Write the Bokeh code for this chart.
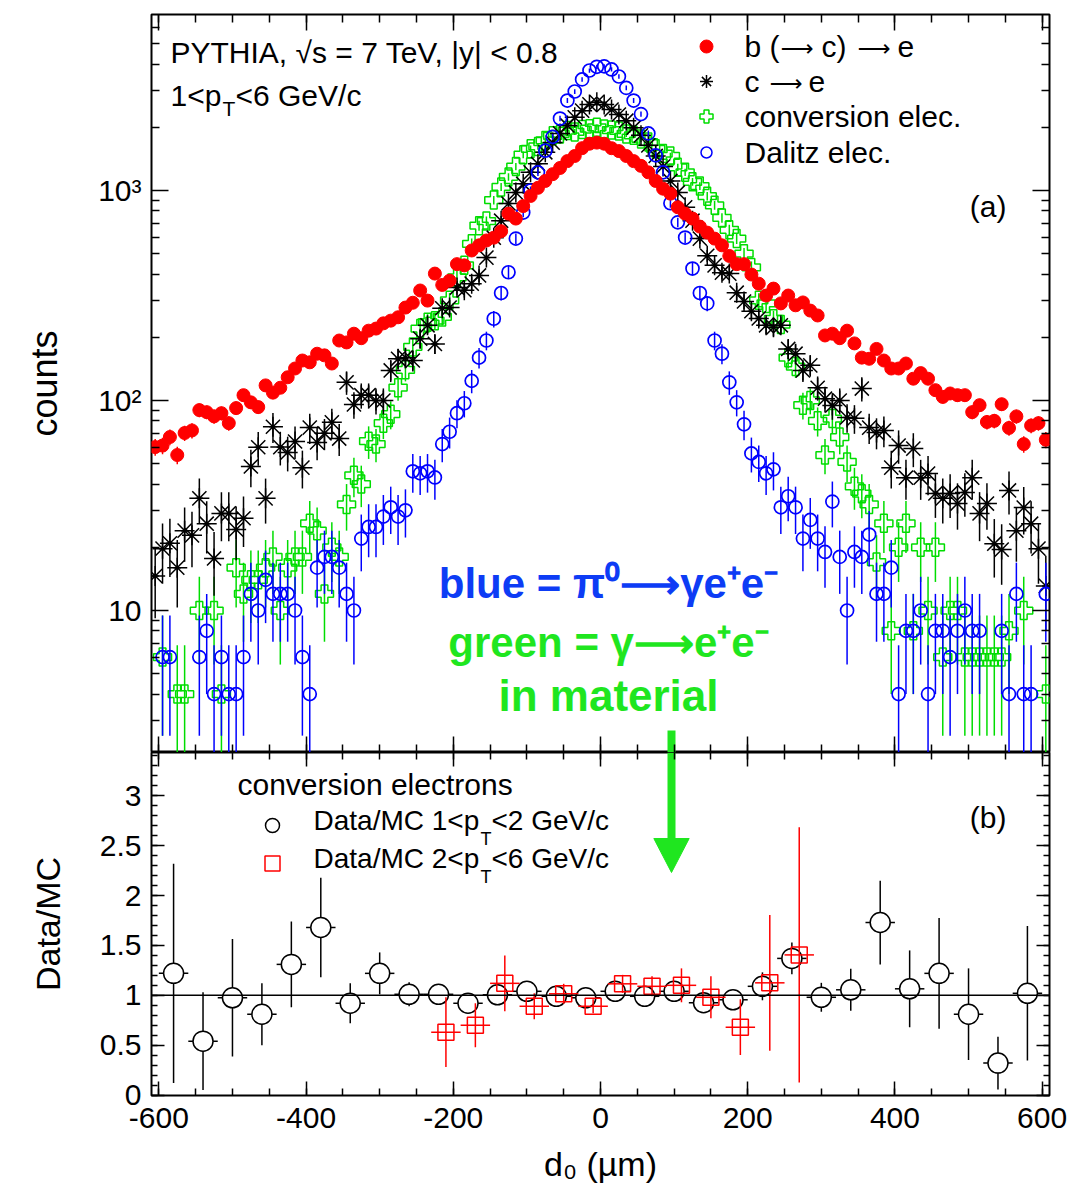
import math

from bokeh.core.properties import value
from bokeh.embed import file_html
from bokeh.layouts import column
from bokeh.models import FixedTicker, Label, LinearAxis, LogAxis, PrintfTickFormatter, Range1d
from bokeh.plotting import figure
from bokeh.resources import INLINE

# ---------------------------------------------------------------- data
# impact-parameter bin centres in µm (10 µm bins)
d0_centers = list(range(-605, 606, 10))

# PYTHIA electron yields per d0 bin
beauty_counts = [
    60, 61, 67, 55, 70, 72, 90, 88, 84, 87,
    78, 92, 106, 98, 93, 118, 109, 115, 129, 142,
    155, 152, 167, 164, 150, 193, 189, 208, 198, 215,
    220, 233, 240, 249, 277, 292, 334, 299, 402, 355,
    372, 446, 440, 518, 548, 578, 596, 640, 776, 735,
    843, 942, 1030, 1110, 1196, 1280, 1380, 1460, 1590, 1670,
    1690, 1670, 1590, 1540, 1460, 1380, 1310, 1220, 1110, 1020,
    966, 832, 776, 735, 673, 630, 590, 548, 488, 446,
    446, 398, 360, 316, 341, 290, 316, 284, 293, 268,
    254, 204, 208, 198, 215, 187, 160, 158, 176, 155,
    142, 142, 150, 127, 135, 127, 112, 104, 108, 106,
    106, 88, 95, 79, 80, 96, 74, 84, 62, 76,
    78, 65,
]
charm_counts = [
    14.6, 19.7, 20.9, 16, 24, 22.8, 34.2, 25.9, 17.7, 29,
    29, 24.3, 27.5, 48.5, 59.9, 34.2, 75, 60, 56.6, 63.8,
    47.9, 74.3, 63.1, 69.8, 78.7, 65.9, 122, 95.7, 106, 106,
    100, 100, 139, 158, 160, 155, 197, 228, 186, 275,
    277, 345, 335, 360, 394, 479, 596, 718, 867, 979,
    1076, 1220, 1340, 1520, 1690, 1870, 2040, 2230, 2400, 2570,
    2630, 2570, 2430, 2300, 2150, 1990, 1830, 1640, 1460, 1300,
    1110, 979, 832, 718, 590, 489, 440, 406, 402, 326,
    296, 266, 246, 228, 223, 228, 176, 167, 139, 147,
    115, 102, 94.7, 100, 83, 82.2, 114, 74.3, 70.4, 71.9,
    47.9, 61, 42.9, 59, 42.9, 44.9, 36.1, 34.2, 36.1, 32.3,
    36.5, 42.9, 29, 32.3, 20.8, 19.5, 37.3, 24, 30.9, 25.9,
    19.7, 13.1,
]
conversion_counts = [
    0, 6, 0, 4, 4, 0, 10, 0, 10, 4,
    0, 16, 12, 14, 14, 16, 18, 10, 16, 18,
    18, 26, 24, 12, 20, 18, 32, 44, 40, 64,
    62, 78, 86, 115, 140, 180, 220, 236, 240, 250,
    300, 386, 440, 557, 680, 715, 900, 1040, 1160, 1300,
    1480, 1580, 1620, 1730, 1820, 1860, 1930, 1900, 1950, 1970,
    2000, 1960, 1940, 1920, 1860, 1830, 1760, 1700, 1580, 1500,
    1460, 1290, 1220, 1100, 1050, 940, 850, 740, 650, 590,
    500, 430, 300, 290, 245, 230, 160, 145, 95, 100,
    80, 55, 82, 67, 51, 39, 36, 32, 17, 26,
    8, 20, 26, 8, 20, 10, 20, 6, 10, 10,
    6, 6, 6, 6, 6, 6, 8, 0, 10, 0,
    0, 4,
]
dalitz_counts = [
    0, 6, 6, 0, 0, 0, 6, 8, 4, 6,
    4, 4, 6, 12, 10, 14, 12, 12, 12, 10,
    6, 4, 16, 18, 18, 16, 12, 10, 22, 25,
    25, 28, 31, 28, 30, 46, 45, 46, 43, 62,
    71, 87, 97, 124, 160, 193, 245, 325, 408, 590,
    785, 1000, 1220, 1547, 1800, 2200, 2680, 2960, 3380, 3727,
    3880, 3900, 3770, 3490, 3080, 2680, 2310, 1870, 1470, 1220,
    870, 705, 597, 425, 325, 290, 193, 167, 122, 98,
    77, 56, 51, 45, 47, 31, 35, 31, 22, 27,
    22, 19, 33, 18, 10, 19, 18, 23, 12, 12,
    16, 4, 8, 8, 10, 4, 8, 8, 6, 8,
    10, 8, 8, 0, 0, 8, 4, 12, 4, 4,
    0, 12,
]
# mean MC weight per entry of each sample (sets the Poisson error)
beauty_weight = 0.5
charm_weight = 2.0
conversion_weight = 2.0
dalitz_weight = 2.0

# Data/MC ratio of conversion electrons, 40 µm bins
ratio_low_x = [-580, -540, -500, -460, -420, -380, -340, -300, -260, -220,
               -180, -140, -100, -60, -20, 20, 60, 100, 140, 180,
               220, 260, 300, 340, 380, 420, 460, 500, 540, 580]
ratio_low = [1.22, 0.54, 0.975, 0.81, 1.31, 1.68, 0.92, 1.22, 1.01, 1.01,
             0.92, 1.005, 1.04, 0.99, 0.975, 1.04, 0.99, 1.04, 0.925, 0.955,
             1.09, 1.37, 0.98, 1.055, 1.73, 1.065, 1.22, 0.81, 0.32, 1.02]
ratio_low_err = [1.1, 0.49, 0.59, 0.31, 0.43, 0.5, 0.2, 0.21, 0.12, 0.08,
                 0.08, 0.05, 0.04, 0.04, 0.04, 0.04, 0.04, 0.05, 0.06, 0.07,
                 0.14, 0.16, 0.145, 0.21, 0.42, 0.385, 0.555, 0.46, 0.265, 0.675]

ratio_high_x = [-210, -170, -130, -90, -50, -10, 30, 70, 110, 150, 190, 230, 270]
ratio_high = [0.63, 0.70, 1.12, 0.89, 1.015, 0.89, 1.115, 1.09, 1.10, 0.98, 0.68, 1.125, 1.405]
ratio_high_err = [0.35, 0.22, 0.28, 0.13, 0.1, 0.07, 0.09, 0.1, 0.17, 0.21, 0.28, 0.68, 1.28]

# ---------------------------------------------------------------- layout
FONT = "Liberation Sans"
ARROW_FONT = "DejaVu Sans"
RED, BLACK, GREEN, BLUE = "#ff0000", "#000000", "#00dd00", "#0000ff"
NOTE_BLUE, NOTE_GREEN = "#0d3cf5", "#1fe61f"

X_RANGE = (-610, 610)
TOP_Y = (2.108, 6886)
LOW_Y = (-0.005, 3.435)
FRAME_L, FRAME_R = 151, 1049
TOP_T, TOP_B = 14, 752
LOW_T, LOW_B = 752, 1095


def sx(px):
    return X_RANGE[0] + (px - FRAME_L) / (FRAME_R - FRAME_L) * (X_RANGE[1] - X_RANGE[0])


def sy_top(py):
    a, b = math.log10(TOP_Y[0]), math.log10(TOP_Y[1])
    return 10 ** (b - (py - TOP_T) / (TOP_B - TOP_T) * (b - a))


def sy_low(py):
    return LOW_Y[1] - (py - LOW_T) / (LOW_B - LOW_T) * (LOW_Y[1] - LOW_Y[0])


def style_axis(ax, tick_in, minor_in, labels=True, size="30px"):
    ax.axis_line_color = None
    ax.major_tick_in = tick_in
    ax.major_tick_out = 0
    ax.minor_tick_in = minor_in
    ax.minor_tick_out = 0
    ax.major_tick_line_color = "black"
    ax.minor_tick_line_color = "black"
    ax.major_tick_line_width = 1.5
    ax.minor_tick_line_width = 1.5
    ax.major_label_text_font = FONT
    ax.major_label_text_color = "black"
    if labels:
        ax.major_label_text_font_size = size
        ax.major_label_standoff = 10
    else:
        # mirrored tick rows on the opposite frame edges carry no numbers
        ax.major_label_text_font_size = "1px"
        ax.major_label_text_alpha = 0
        ax.major_label_standoff = 0
    ax.axis_label_text_font = FONT
    ax.axis_label_text_font_style = "normal"
    ax.axis_label_text_color = "black"


x_major = [-600, -400, -200, 0, 200, 400, 600]
x_minor = list(range(-600, 601, 50))

log_major = [10, 100, 1000]
log_minor = [3, 4, 5, 6, 7, 8, 9, 20, 30, 40, 50, 60, 70, 80, 90,
             200, 300, 400, 500, 600, 700, 800, 900, 2000, 3000, 4000, 5000, 6000]
log_labels = {10: "10", 100: "10²", 1000: "10³"}

lin_major = [0, 0.5, 1, 1.5, 2, 2.5, 3]
lin_minor = [k / 10 for k in range(0, 35)]

ARROW = "⟶"


def text(fig, x, y, s, size, color="black", bold=False, align="left", font=FONT):
    fig.text(x=[x], y=[y], text=[s], text_font=value(font), text_font_size=f"{size}px",
             text_color=color, text_align=align, text_baseline="alphabetic",
             text_font_style="bold" if bold else "normal")


# ---------------------------------------------------------------- upper panel
top = figure(width=1067, height=752, x_range=Range1d(*X_RANGE), y_range=Range1d(*TOP_Y),
             y_axis_type="log", output_backend="svg", toolbar_location=None,
             min_border_left=FRAME_L, min_border_right=1067 - FRAME_R,
             min_border_top=TOP_T, min_border_bottom=0)
top.grid.visible = False
top.outline_line_color = "black"
top.outline_line_width = 2
top.background_fill_color = "white"
top.border_fill_color = "white"

xb = top.xaxis[0]
xb.ticker = FixedTicker(ticks=x_major, minor_ticks=x_minor)
style_axis(xb, 16, 8, labels=False)
xa = LinearAxis(ticker=FixedTicker(ticks=x_major, minor_ticks=x_minor))
style_axis(xa, 16, 8, labels=False)
top.add_layout(xa, "above")

yl = top.yaxis[0]
yl.ticker = FixedTicker(ticks=log_major, minor_ticks=log_minor)
yl.major_label_overrides = log_labels
style_axis(yl, 17, 8)
yl.axis_label = "counts"
yl.axis_label_text_font_size = "36px"
yl.axis_label_standoff = 30
yr = LogAxis(ticker=FixedTicker(ticks=log_major, minor_ticks=log_minor))
style_axis(yr, 17, 8, labels=False)
top.add_layout(yr, "right")


def draw_series(counts, weight, xerr, **marker):
    xs, ys, lo, hi = [], [], [], []
    for x, n in zip(d0_centers, counts):
        if n <= 0:
            continue
        e = math.sqrt(weight * n)
        xs.append(x)
        ys.append(n)
        lo.append(max(n - e, 0.5))
        hi.append(n + e)
    color = marker.get("line_color")
    top.segment(x0=xs, y0=lo, x1=xs, y1=hi, line_color=color, line_width=1.5)
    if xerr:
        top.segment(x0=[x - xerr for x in xs], y0=ys, x1=[x + xerr for x in xs], y1=ys,
                    line_color=color, line_width=1.5)
    top.scatter(x=xs, y=ys, **marker)


draw_series(conversion_counts, conversion_weight, 0, marker="plus", size=18,
            line_color=GREEN, fill_alpha=0, line_width=1.5)
draw_series(charm_counts, charm_weight, 5, marker="asterisk", size=20,
            line_color=BLACK, line_width=1.5)
draw_series(dalitz_counts, dalitz_weight, 0, marker="circle", size=13,
            line_color=BLUE, fill_alpha=0, line_width=1.7)
draw_series(beauty_counts, beauty_weight, 0, marker="circle", size=13,
            line_color=RED, fill_color=RED)

# header and legend (y values give the centre line of each text row)
text(top, sx(170), sy_top(52), "PYTHIA, √s = 7 TeV, |y| < 0.8", 30)
text(top, sx(170), sy_top(95), "1<p", 30)
text(top, sx(222), sy_top(108), "T", 21)
text(top, sx(235), sy_top(95), "<6 GeV/c", 30)

top.scatter(x=[sx(706)], y=[sy_top(46)], marker="circle", size=13, line_color=RED, fill_color=RED)
top.scatter(x=[sx(706)], y=[sy_top(81)], marker="asterisk", size=13, line_color=BLACK, line_width=1.5)
top.scatter(x=[sx(706)], y=[sy_top(116)], marker="plus", size=13, line_color=GREEN,
            fill_alpha=0, line_width=1.5)
top.scatter(x=[sx(706)], y=[sy_top(152)], marker="circle", size=11, line_color=BLUE,
            fill_alpha=0, line_width=1.5)

# legend rows: words in the label font, thin long arrows set separately
text(top, sx(744), sy_top(46), "b (", 30)
text(top, sx(780), sy_top(47), ARROW, 23, font=ARROW_FONT)
text(top, sx(821), sy_top(46), "c)", 30)
text(top, sx(857), sy_top(47), ARROW, 23, font=ARROW_FONT)
text(top, sx(897), sy_top(46), "e", 30)
text(top, sx(744), sy_top(81), "c", 30)
text(top, sx(769), sy_top(82), ARROW, 23, font=ARROW_FONT)
text(top, sx(808), sy_top(81), "e", 30)
text(top, sx(744), sy_top(116), "conversion elec.", 30)
text(top, sx(744), sy_top(152), "Dalitz elec.", 30)

text(top, sx(1006), sy_top(206), "(a)", 30, align="right")

text(top, sx(608), sy_top(583), f"blue = π⁰{ARROW}γe⁺e⁻", 42, color=NOTE_BLUE, bold=True,
     align="center")
text(top, sx(608), sy_top(642), f"green = γ{ARROW}e⁺e⁻", 42, color=NOTE_GREEN, bold=True,
     align="center")
text(top, sx(608), sy_top(695), "in material", 44, color=NOTE_GREEN, bold=True, align="center")

arrow_x = sx(671)
top.segment(x0=[arrow_x], y0=[sy_top(730)], x1=[arrow_x], y1=[TOP_Y[0]],
            line_color=NOTE_GREEN, line_width=8)

# ---------------------------------------------------------------- lower panel
low = figure(width=1067, height=436, x_range=top.x_range, y_range=Range1d(*LOW_Y),
             output_backend="svg", toolbar_location=None,
             min_border_left=FRAME_L, min_border_right=1067 - FRAME_R,
             min_border_top=0, min_border_bottom=1188 - LOW_B)
low.grid.visible = False
low.outline_line_color = "black"
low.outline_line_width = 2
low.background_fill_color = "white"
low.border_fill_color = "white"

lb = low.xaxis[0]
lb.ticker = FixedTicker(ticks=x_major, minor_ticks=x_minor)
lb.formatter = PrintfTickFormatter(format="%d")
style_axis(lb, 14, 7)
lb.major_label_standoff = 12
lb.axis_label = "d₀ (µm)"
lb.axis_label_text_font_size = "34px"
lb.axis_label_standoff = 14
la = LinearAxis(ticker=FixedTicker(ticks=x_major, minor_ticks=x_minor))
style_axis(la, 14, 7, labels=False)
low.add_layout(la, "above")

ll = low.yaxis[0]
ll.ticker = FixedTicker(ticks=lin_major, minor_ticks=lin_minor)
ll.formatter = PrintfTickFormatter(format="%g")
style_axis(ll, 13, 6)
ll.axis_label = "Data/MC"
ll.axis_label_text_font_size = "34px"
ll.axis_label_standoff = 30
lr = LinearAxis(ticker=FixedTicker(ticks=lin_major, minor_ticks=lin_minor))
style_axis(lr, 13, 6, labels=False)
low.add_layout(lr, "right")

# error bars, then markers
low.segment(x0=ratio_low_x, y0=[v - e for v, e in zip(ratio_low, ratio_low_err)],
            x1=ratio_low_x, y1=[v + e for v, e in zip(ratio_low, ratio_low_err)],
            line_color=BLACK, line_width=1.5)
low.segment(x0=[x - 20 for x in ratio_low_x], y0=ratio_low,
            x1=[x + 20 for x in ratio_low_x], y1=ratio_low, line_color=BLACK, line_width=1.5)
low.scatter(x=ratio_low_x, y=ratio_low, marker="circle", size=20, line_color=BLACK,
            fill_color="white", line_width=1.5)

low.segment(x0=ratio_high_x, y0=[v - e for v, e in zip(ratio_high, ratio_high_err)],
            x1=ratio_high_x, y1=[v + e for v, e in zip(ratio_high, ratio_high_err)],
            line_color=RED, line_width=1.5)
low.segment(x0=[x - 20 for x in ratio_high_x], y0=ratio_high,
            x1=[x + 20 for x in ratio_high_x], y1=ratio_high, line_color=RED, line_width=1.5)
low.scatter(x=ratio_high_x, y=ratio_high, marker="square", size=16, line_color=RED,
            fill_alpha=0, line_width=1.5)

# unity reference line, drawn over the markers
low.segment(x0=[X_RANGE[0]], y0=[1], x1=[X_RANGE[1]], y1=[1], line_color="black", line_width=1.5)

text(low, sx(237), sy_low(784), "conversion electrons", 30)
low.scatter(x=[sx(272)], y=[sy_low(825)], marker="circle", size=14, line_color=BLACK,
            fill_alpha=0, line_width=1.5)
low.scatter(x=[sx(272)], y=[sy_low(863)], marker="square", size=15, line_color=RED,
            fill_alpha=0, line_width=1.5)
text(low, sx(313), sy_low(820), "Data/MC 1<p", 28)
text(low, sx(480), sy_low(838), "T", 18)
text(low, sx(491), sy_low(820), "<2 GeV/c", 28)
text(low, sx(313), sy_low(858), "Data/MC 2<p", 28)
text(low, sx(480), sy_low(876), "T", 18)
text(low, sx(491), sy_low(858), "<6 GeV/c", 28)
text(low, sx(1006), sy_low(817), "(b)", 30, align="right")

low.segment(x0=[arrow_x], y0=[LOW_Y[1]], x1=[arrow_x], y1=[sy_low(840)],
            line_color=NOTE_GREEN, line_width=8)
low.patch(x=[arrow_x - 24, arrow_x + 24, arrow_x], y=[sy_low(838), sy_low(838), sy_low(872)],
          fill_color=NOTE_GREEN, line_color=NOTE_GREEN)

# publication tag in the bottom-left corner of the page
low.add_layout(Label(x=sx(12), y=sy_low(1174), text="ALI-PUB-39806", text_font="Liberation Mono",
                     text_font_style="bold", text_font_size="22px", text_color="#9a9a9a",
                     text_baseline="middle", level="overlay"))

page = column(top, low, spacing=0)
open("out.html", "w").write(file_html(page, INLINE))
